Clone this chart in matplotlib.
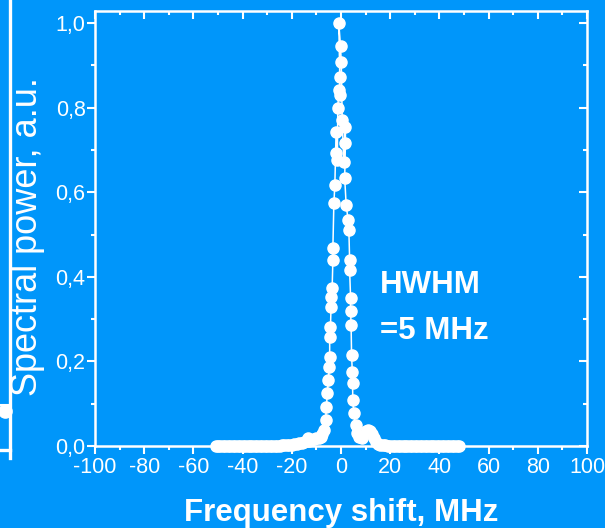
import matplotlib
matplotlib.use('Agg')
import matplotlib.pyplot as plt
from matplotlib.ticker import MultipleLocator
from matplotlib.lines import Line2D

plt.rcParams['font.family'] = ['Liberation Sans', 'DejaVu Sans']

BG = '#0096FA'
FG = 'white'

# ---- data ----
base_left_x = [-51, -50, -49, -48, -47, -46, -45, -44, -43, -42, -41, -40, -39, -38,
               -37, -36, -35, -34, -33, -32, -31, -30, -29, -28, -27, -26, -25, -24,
               -23, -22, -21, -20, -19]
base_left_y = [0.0, 0.0, 0.0, 0.0, 0.0, 0.0, 0.0, 0.0, 0.0, 0.0, 0.0, 0.0, 0.0, 0.0,
               0.0, 0.0, 0.0, 0.0, 0.0, 0.0, 0.0, 0.0, 0.0, 0.001, 0.001, 0.001, 0.001, 0.002,
               0.002, 0.002, 0.003, 0.003, 0.004]

peak_x = [-18, -17, -16, -15, -14, -13.6, -13, -12, -11, -10, -9, -8.3, -7.6, -7.0,
          -6.3, -5.9, -5.6, -5.1, -4.8, -4.6, -4.6, -4.3, -4.0, -3.9, -3.6, -3.3, -3.3,
          -2.9, -2.5, -2.2, -2.0, -1.5, -1.3, -0.9, -0.5, -0.5, -0.9, -0.2, 0.1, 0.5,
          1.1, 1.8, 1.8, 1.5, 2.1, 2.9, 3.2, 3.5, 3.5, 3.9, 3.9, 4.1, 4.3, 4.6, 4.7,
          4.8, 5.2, 5.9, 6.6, 7.5, 8.5, 9.5, 10.3, 11.0, 11.8, 12.5, 13.3, 14.2, 15.0]
peak_y = [0.005, 0.006, 0.007, 0.009, 0.011, 0.019, 0.013, 0.014, 0.016, 0.018, 0.020, 0.021, 0.028, 0.038,
          0.061, 0.092, 0.125, 0.156, 0.187, 0.210, 0.258, 0.281, 0.329, 0.352, 0.373, 0.440, 0.468,
          0.574, 0.617, 0.693, 0.743, 0.676, 0.799, 0.842, 0.830, 0.873, 0.999, 0.946, 0.908, 0.771,
          0.672, 0.755, 0.716, 0.634, 0.570, 0.534, 0.511, 0.440, 0.416, 0.350, 0.320, 0.286, 0.215, 0.175, 0.149,
          0.109, 0.078, 0.050, 0.031, 0.022, 0.020, 0.028, 0.035, 0.038, 0.036, 0.028, 0.018, 0.010, 0.005]

base_right_x = [16, 17, 18, 19, 20, 21, 22, 23, 24, 25, 26, 27, 28, 29, 30, 31, 32,
                33, 34, 35, 36, 37, 38, 39, 40, 41, 42, 43, 44, 45, 46, 47, 48]
base_right_y = [0.003, 0.002, 0.002, 0.001, 0.001, 0.0, 0.0, 0.0, 0.0, 0.0, 0.0, 0.0, 0.0, 0.0, 0.0, 0.0, 0.0,
                0.0, 0.0, 0.0, 0.0, 0.0, 0.0, 0.0, 0.0, 0.0, 0.0, 0.0, 0.0, 0.0, 0.0, 0.0, 0.0]

freq = base_left_x + peak_x + base_right_x
power = base_left_y + peak_y + base_right_y

xticks = [-100, -80, -60, -40, -20, 0, 20, 40, 60, 80, 100]
xtick_labels = ['-100', '-80', '-60', '-40', '-20', '0', '20', '40', '60', '80', '100']
yticks = [0.0, 0.2, 0.4, 0.6, 0.8, 1.0]
ytick_labels = ['0,0', '0,2', '0,4', '0,6', '0,8', '1,0']

# ---- figure ----
fig = plt.figure(figsize=(6.05, 5.28), dpi=100, facecolor=BG)
ax = fig.add_axes([95 / 605, 82 / 528, 492 / 605, 435 / 528])
ax.set_facecolor(BG)

ax.plot(freq, power, '-o', color=FG, lw=1.1, ms=8, mfc=FG, mec=FG, clip_on=False, zorder=3)

ax.set_xlim(-100, 100)
ax.set_ylim(0, 1.0284)
ax.set_xticks(xticks)
ax.set_xticklabels(xtick_labels)
ax.set_yticks(yticks)
ax.set_yticklabels(ytick_labels)
ax.xaxis.set_minor_locator(MultipleLocator(10))
ax.yaxis.set_minor_locator(MultipleLocator(0.1))

for s in ax.spines.values():
    s.set_color(FG)
    s.set_linewidth(1.8)

ax.tick_params(axis='both', which='both', colors=FG, width=1.5,
               top=True, right=True, direction='out')
ax.tick_params(axis='both', which='major', length=5.8, labelsize=15.5)
ax.tick_params(axis='both', which='minor', length=2.9)
ax.tick_params(axis='x', which='major', pad=2)
ax.tick_params(axis='y', which='major', pad=1)
# top and right ticks point inward
for t in ax.xaxis.get_major_ticks() + ax.xaxis.get_minor_ticks():
    t.tick2line.set_marker(3)
for t in ax.yaxis.get_major_ticks() + ax.yaxis.get_minor_ticks():
    t.tick2line.set_marker(0)

fig.text(380 / 605, 1 - 293 / 528, 'HWHM', color=FG, fontsize=22.5,
         fontweight='bold', ha='left', va='baseline')
fig.text(380 / 605, 1 - 339 / 528, '=5 MHz', color=FG, fontsize=22.5,
         fontweight='bold', ha='left', va='baseline')

fig.text(28 / 605, 1 - 237 / 528, 'Spectral power, a.u.', color=FG, fontsize=26,
         rotation=90, ha='center', va='center')
fig.text(341 / 605, 1 - 521 / 528, 'Frequency shift, MHz', color=FG, fontsize=22.5,
         fontweight='bold', ha='center', va='baseline')

# fragment of a neighbouring panel at the left edge
fig.add_artist(Line2D([10 / 605, 10 / 605], [1.0, 1 - 458 / 528], color=FG, lw=2.4,
                      transform=fig.transFigure))
fig.add_artist(Line2D([0, 10 / 605], [1 - 405 / 528, 1 - 405 / 528], color=FG, lw=1.5,
                      transform=fig.transFigure))
fig.add_artist(Line2D([0, 10 / 605], [1 - 450 / 528, 1 - 450 / 528], color=FG, lw=2.4,
                      transform=fig.transFigure))
fig.add_artist(Line2D([5 / 605], [1 - 411 / 528], color=FG, marker='o', ms=9.5,
                      transform=fig.transFigure))

fig.savefig('out.png', dpi=100, facecolor=BG)
